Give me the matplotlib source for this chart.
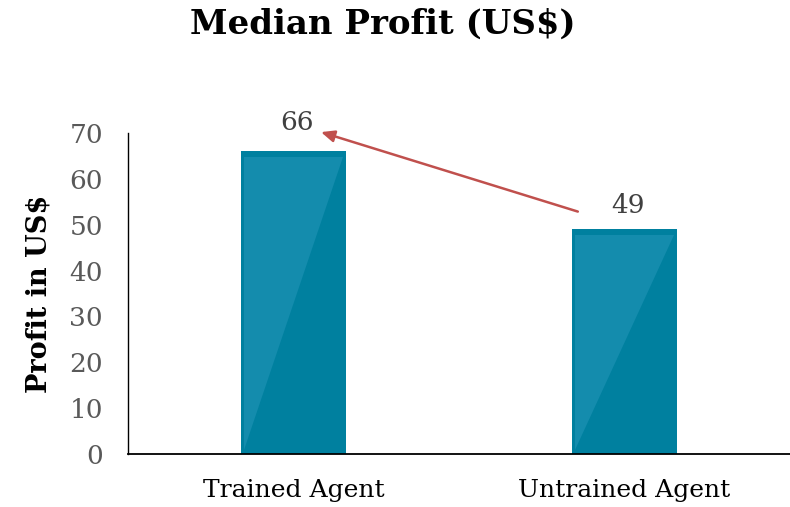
import matplotlib.pyplot as plt
from matplotlib.patches import Polygon

categories = ['Trained Agent', 'Untrained Agent']
median_profit = [66, 49]

dark = '#00809f'
light = '#148cad'
width = 0.315

plt.rcParams['font.family'] = 'DejaVu Serif'

fig = plt.figure(figsize=(7.9, 5.07), dpi=100)
ax = fig.add_axes([0.162, 0.1045, 0.838, 0.633])

x = list(range(len(categories)))
ax.bar(x, median_profit, width=width, color=dark, zorder=2)

# lighter upper-left triangle on each bar
for xi, v in zip(x, median_profit):
    l = xi - width / 2 + 0.008
    r = xi + width / 2 - 0.008
    top = v - 1.3
    tri = Polygon([(l, 0.8), (l, top), (r, top)], closed=True,
                  facecolor=light, edgecolor='none', zorder=3)
    ax.add_patch(tri)

label_offsets = [3.6, 2.4]
for xi, v, off in zip(x, median_profit, label_offsets):
    ax.text(xi + 0.01, v + off, str(v), ha='center', va='bottom',
            fontsize=19, color='#404040')

ax.annotate('', xy=(0.075, 70.4), xytext=(0.867, 52.7),
            arrowprops=dict(arrowstyle='-|>,head_length=0.8,head_width=0.35',
                            color='#c0504d', lw=1.8),
            annotation_clip=False)

ax.set_xlim(-0.5, 1.5)
ax.set_ylim(0, 70)
ax.set_yticks(range(0, 71, 10))
ax.set_xticks(x, categories)
ax.tick_params(axis='both', length=0)
ax.tick_params(axis='y', labelsize=19, labelcolor='#595959', pad=18)
ax.tick_params(axis='x', labelsize=18, labelcolor='black', pad=18)

for s in ['top', 'right']:
    ax.spines[s].set_visible(False)
ax.spines['left'].set_linewidth(1.0)
ax.spines['bottom'].set_linewidth(1.3)

ax.set_ylabel('Profit in US$', fontsize=19.5, fontweight='bold', labelpad=12)
fig.suptitle('Median Profit (US$)', fontsize=24.5, fontweight='bold', y=0.985, x=0.485)

fig.savefig('out.png', dpi=100)
